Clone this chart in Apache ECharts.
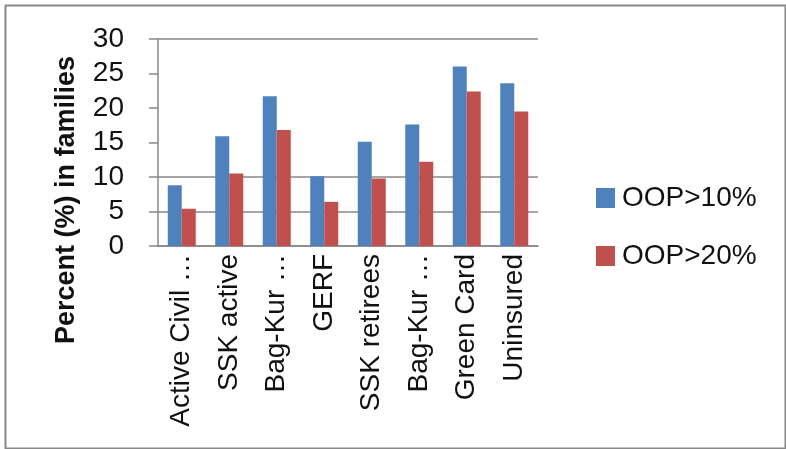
<!DOCTYPE html>
<html>
<head>
<meta charset="utf-8">
<script src="https://cdn.jsdelivr.net/npm/echarts@6/dist/echarts.min.js"></script>
<style>
  html, body { margin: 0; padding: 0; background: #fff; }
  #chart { width: 786px; height: 449px; }
</style>
</head>
<body>
<div id="chart"></div>
<script>
// data
const categories = ['Active Civil …', 'SSK active', 'Bag-Kur …', 'GERF', 'SSK retirees', 'Bag-Kur …', 'Green Card', 'Uninsured']
const oop10 = [8.8, 15.9, 21.7, 10.1, 15.1, 17.6, 26.0, 23.6]
const oop20 = [5.4, 10.5, 16.8, 6.4, 9.8, 12.2, 22.4, 19.5]
const seriesNames = ['OOP>10%', 'OOP>20%']
const yTicks = [0, 5, 10, 15, 20, 25, 30]

const font = 'Liberation Sans'
const chart = echarts.init(document.getElementById('chart'))
const option = {
  animation: false,
  grid: { left: 158, right: 248, top: 39, bottom: 203 },
  legend: {
    orient: 'vertical',
    left: 591,
    top: 179,
    itemWidth: 19,
    itemHeight: 20,
    itemGap: 30,
    icon: 'rect',
    textStyle: { fontFamily: font, fontSize: 28, color: '#111', padding: [0, 0, 0, 2] },
    data: seriesNames
  },
  xAxis: {
    type: 'category',
    data: categories,
    axisLine: { lineStyle: { color: '#888', width: 1.5 } },
    axisTick: { show: false },
    axisLabel: {
      interval: 0,
      rotate: 90,
      margin: 8,
      fontFamily: font,
      fontSize: 28,
      color: '#111'
    }
  },
  yAxis: {
    type: 'value',
    min: yTicks[0],
    max: yTicks[yTicks.length - 1],
    interval: 5,
    axisLine: { show: true, lineStyle: { color: '#888', width: 1.5 } },
    axisTick: { show: true, length: 9, lineStyle: { color: '#888', width: 1.5 } },
    axisLabel: {
      margin: 34,
      fontFamily: font,
      fontSize: 28,
      color: '#111',
      formatter: v => String(v)
    },
    splitLine: {
      show: true,
      lineStyle: {
        width: 1.5,
        color: ['#888', '#888', '#888', 'rgba(0,0,0,0)', 'rgba(0,0,0,0)', 'rgba(0,0,0,0)', '#888']
      }
    }
  },
  series: [
    {
      name: seriesNames[0],
      type: 'bar',
      data: oop10,
      barWidth: 14,
      barGap: '0%',
      itemStyle: { color: '#4F81BD' }
    },
    {
      name: seriesNames[1],
      type: 'bar',
      data: oop20,
      barWidth: 14,
      barGap: '0%',
      itemStyle: { color: '#C0504D' }
    }
  ],
  graphic: [
    {
      type: 'rect',
      left: 3,
      top: 3,
      shape: { width: 780, height: 443 },
      style: { fill: 'none', stroke: '#888', lineWidth: 2 },
      silent: true
    },
    {
      type: 'text',
      x: 67,
      y: 200,
      rotation: Math.PI / 2,
      style: {
        text: 'Percent (%) in families',
        fontFamily: font,
        fontSize: 27,
        fontWeight: 'bold',
        fill: '#111',
        align: 'center',
        verticalAlign: 'middle'
      }
    }
  ]
}
chart.setOption(option)
</script>
</body>
</html>
